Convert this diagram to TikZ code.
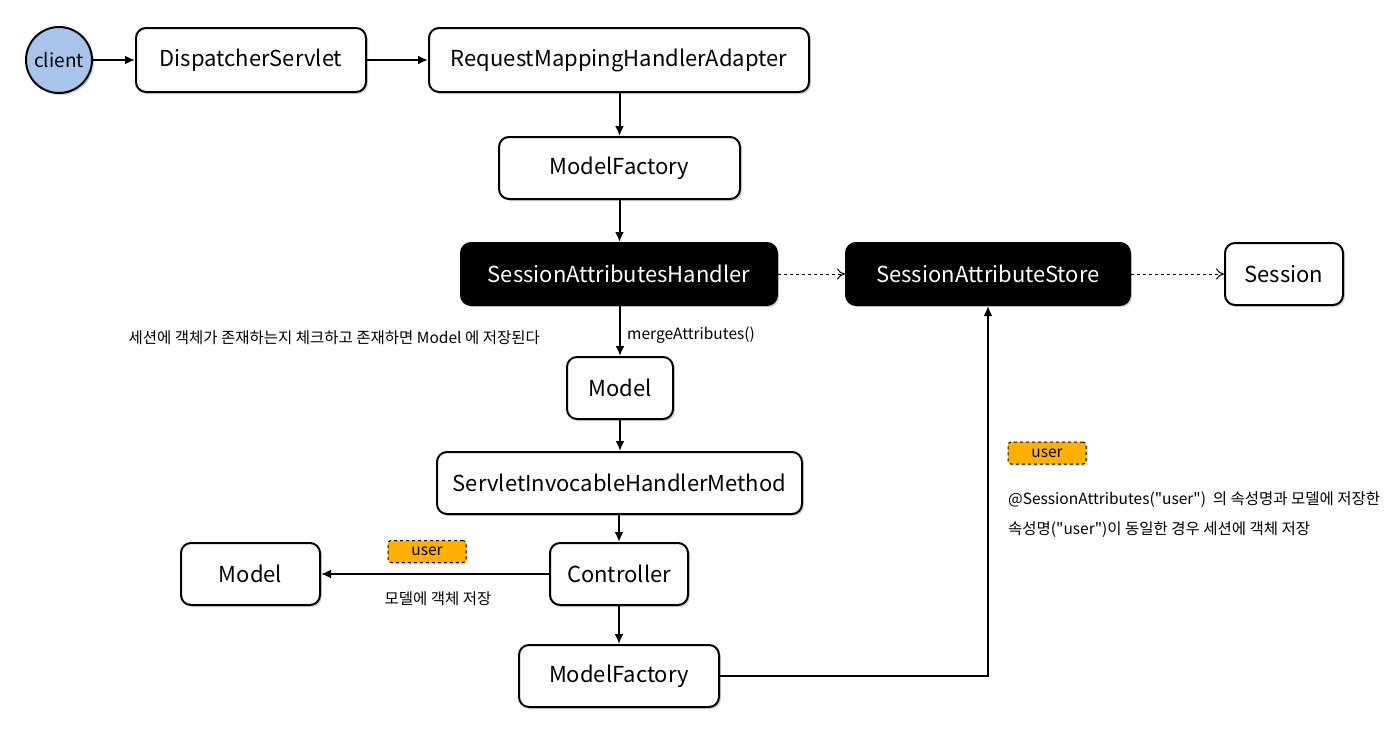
\documentclass[tikz,border=0pt]{standalone}
\usepackage{fontspec}
\setmainfont{Noto Sans CJK KR}[Ligatures=TeXOff]
\usetikzlibrary{arrows.meta,shadows}
\definecolor{clientblue}{HTML}{A9C4EB}
\definecolor{tagorange}{HTML}{FFB000}
\tikzset{
  box/.style={draw=black,line width=2pt,rounded corners=10pt,fill=white,
    font=\fontsize{22}{25}\selectfont,inner sep=0pt,
    drop shadow={shadow xshift=2pt,shadow yshift=-2pt,opacity=0.35,fill=gray}},
  darkbox/.style={box,fill=black,text=white},
  tag/.style={draw=black,dashed,line width=1pt,rounded corners=3pt,fill=tagorange,
    minimum width=78pt,minimum height=22pt,inner sep=0pt,font=\fontsize{15.5}{17}\selectfont,
    drop shadow={shadow xshift=2pt,shadow yshift=-2pt,opacity=0.3,fill=gray}},
  note/.style={font=\fontsize{15.5}{18}\selectfont,inner sep=0pt},
  conn/.style={line width=2pt,-{Latex[length=10pt,width=9pt]}},
  dconn/.style={line width=1pt,dashed,-{To[length=8pt,width=11pt]}}
}
\begin{document}
\begin{tikzpicture}[x=1pt,y=-1pt]
\useasboundingbox (0,0) rectangle (1395,734);
\node[circle,draw=black,line width=2pt,fill=clientblue,minimum size=66pt,inner sep=0pt,
  font=\fontsize{19}{22}\selectfont,
  drop shadow={shadow xshift=2pt,shadow yshift=-2pt,opacity=0.35,fill=gray}] (client) at (59,60) {client};
\node[box,minimum width=230pt,minimum height=64pt] (ds) at (251,60) {DispatcherServlet};
\node[box,minimum width=380pt,minimum height=64pt] (rmha) at (619,60) {RequestMappingHandlerAdapter};
\node[box,minimum width=241pt,minimum height=62pt] (mf1) at (619.5,168) {ModelFactory};
\node[darkbox,minimum width=316pt,minimum height=62pt] (sah) at (619,274) {SessionAttributesHandler};
\node[darkbox,minimum width=284pt,minimum height=62pt] (sas) at (988,274) {SessionAttributeStore};
\node[box,minimum width=118pt,minimum height=62pt] (sess) at (1284,274) {Session};
\node[box,minimum width=106pt,minimum height=62pt] (m1) at (620,388) {Model};
\node[box,minimum width=365pt,minimum height=62pt] (sihm) at (619.5,483) {ServletInvocableHandlerMethod};
\node[box,minimum width=138pt,minimum height=62pt] (ctrl) at (619,574) {Controller};
\node[box,minimum width=139pt,minimum height=62pt] (m2) at (250.5,574) {Model};
\node[box,minimum width=200pt,minimum height=62pt] (mf2) at (619,676) {ModelFactory};

\draw[conn] (client) -- (ds);
\draw[conn] (ds) -- (rmha);
\draw[conn] (rmha.south -| mf1.north) -- (mf1);
\draw[conn] (mf1) -- (sah.north -| mf1.south);
\draw[dconn] (sah) -- (sas);
\draw[dconn] (sas) -- (sess);
\draw[conn] (sah.south -| m1.north) -- (m1);
\draw[conn] (m1) -- (sihm.north -| m1.south);
\draw[conn] (sihm.south -| ctrl.north) -- (ctrl);
\draw[conn] (ctrl) -- (m2);
\draw[conn] (ctrl) -- (mf2);
\draw[conn] (mf2.east) -| (sas.south);

\node[note,anchor=west] (merge) at (627,335) {mergeAttributes()};
\node[note,anchor=east] (chk) at (540,338) {세션에 객체가 존재하는지 체크하고 존재하면 Model 에 저장된다};
\node[tag] (tag1) at (427,551.5) {user};
\node[note] (save1) at (438,599) {모델에 객체 저장};
\node[tag] (tag2) at (1047,453) {user};
\node[note,anchor=west] (l1) at (1008,500) {@SessionAttributes("user")\ \ 의 속성명과 모델에 저장한};
\node[note,anchor=west] (l2) at (1008,530) {속성명("user")이 동일한 경우 세션에 객체 저장};
\end{tikzpicture}
\end{document}
